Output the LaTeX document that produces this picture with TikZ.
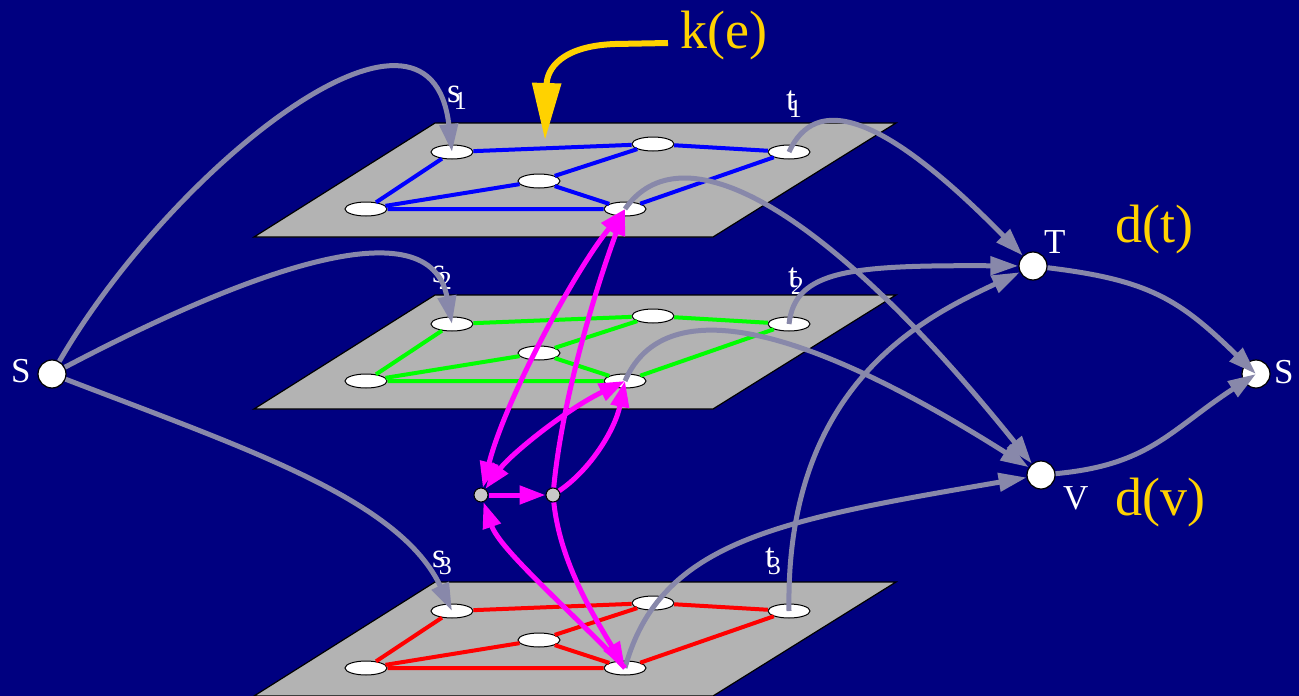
\documentclass[tikz,border=0pt]{standalone}
\usepackage{fontspec}
\setmainfont{Liberation Serif}
\usetikzlibrary{arrows.meta,shapes.geometric}
\definecolor{navy}{RGB}{0,0,128}
\definecolor{planegray}{RGB}{179,179,179}
\definecolor{lav}{RGB}{136,136,170}
\definecolor{gold}{RGB}{255,210,0}
\definecolor{mag}{RGB}{255,0,255}
\definecolor{nodegray}{RGB}{200,200,200}
\newcommand{\sublab}[2]{#1\kern-7pt\raisebox{-7pt}{\fontsize{26}{26}\selectfont #2}}
\begin{document}
\begin{tikzpicture}[x=1pt,y=-1pt,
  ell/.style={ellipse,draw=black,fill=white,line width=1pt,minimum width=42pt,minimum height=14pt,inner sep=0pt},
  big/.style={circle,draw=black,fill=white,line width=1.2pt,minimum size=28pt,inner sep=0pt},
  small/.style={circle,draw=black,fill=nodegray,line width=1pt,minimum size=14pt,inner sep=0pt},
  lbl/.style={text=white,font=\fontsize{35}{35}\selectfont,inner sep=0pt,anchor=base west},
  ylbl/.style={text=gold,font=\fontsize{54}{54}\selectfont,inner sep=0pt,anchor=base west},
  grayarrow/.style={draw=lav,line width=5pt,-{Triangle[length=28pt,width=18pt]}},
  magarrow/.style={draw=mag,line width=5pt,-{Triangle[length=26pt,width=18pt]}},
  magboth/.style={draw=mag,line width=5pt,{Triangle[length=26pt,width=18pt]}-{Triangle[length=26pt,width=18pt]}},
  gedge/.style={line width=4pt},
  planestyle/.style={fill=planegray,draw=black,line width=1.2pt}
]
\fill[navy] (0,0) rectangle (1299,696);
\useasboundingbox (0,0) rectangle (1299,696);

% planes with graphs
\foreach \i/\dy/\c in {1/0/blue,2/172/green,3/459/red}{
  \filldraw[planestyle] (254,{237+\dy}) -- (713,{237+\dy}) -- (896,{123+\dy}) -- (435,{123+\dy}) -- cycle;
  \node[ell] (s\i) at (452,{152+\dy}) {};
  \node[ell] (m\i) at (653,{144+\dy}) {};
  \node[ell] (t\i) at (789,{152+\dy}) {};
  \node[ell] (c\i) at (539,{181+\dy}) {};
  \node[ell] (l\i) at (366,{209+\dy}) {};
  \node[ell] (r\i) at (625,{209+\dy}) {};
  \draw[\c,gedge] (s\i) -- (m\i) -- (t\i) -- (r\i) -- (l\i) -- (s\i);
  \draw[\c,gedge] (l\i) -- (c\i) -- (m\i);
  \draw[\c,gedge] (c\i) -- (r\i);
}

% plane labels
\node[lbl] (ls1) at (447,102) {\sublab{s}{1}};
\node[lbl] (lt1) at (786,110) {\sublab{t}{1}};
\node[lbl] (ls2) at (432,282) {\sublab{s}{2}};
\node[lbl] (lt2) at (788,287) {\sublab{t}{2}};
\node[lbl] (ls3) at (432,567) {\sublab{s}{3}};
\node[lbl] (lt3) at (765,567) {\sublab{t}{3}};

% big nodes
\node[big] (src) at (52,374) {};
\node[big] (T) at (1033,266) {};
\node[big] (V) at (1041,475) {};
\node[big] (snk) at (1256,374) {};
\node[lbl] (lsrc) at (11,382) {S};
\node[lbl] (lT) at (1044,253) {T};
\node[lbl] (lV) at (1063,509) {V};
\node[lbl] (lsnk) at (1274,383) {S};

% yellow labels
\node[ylbl] (dt) at (1115,242) {d(t)};
\node[ylbl] (dv) at (1115,515) {d(v)};
\node[ylbl] (ke) at (680,48) {k(e)};

% small gadget nodes
\node[small] (n1) at (481,495) {};
\node[small] (n2) at (553,495) {};

% gray arrows
\draw[grayarrow] (src) .. controls (170,170) and (430,-40) .. (s1.center);
\draw[grayarrow] (src) .. controls (250,270) and (430,205) .. (s2.center);
\draw[grayarrow] (src) .. controls (250,450) and (400,500) .. (s3.center);
\draw[grayarrow] (t1.center) .. controls (815,95) and (880,110) .. (T);
\draw[grayarrow] (t2.center) .. controls (795,270) and (850,265) .. (T);
\draw[grayarrow] (t3.center) .. controls (785,380) and (930,315) .. (T);
\draw[grayarrow] (r1.center) .. controls (680,130) and (820,200) .. (V);
\draw[grayarrow] (r2.center) .. controls (660,300) and (780,310) .. (V);
\draw[grayarrow] (r3.center) .. controls (660,540) and (780,520) .. (V);
\draw[grayarrow] (T) .. controls (1150,280) and (1180,300) .. (snk.center);
\draw[grayarrow] (V) .. controls (1150,465) and (1170,430) .. (snk.center);

% magenta arrows
\draw[magarrow] (n1) -- (n2);
\draw[magboth] (n1) .. controls (505,400) and (575,270) .. (r1.center);
\draw[magarrow] (n2) .. controls (562,400) and (595,290) .. (r1.center);
\draw[magboth] (n1) .. controls (510,455) and (565,410) .. (r2.center);
\draw[magarrow] (n2) .. controls (590,470) and (615,430) .. (r2.center);
\draw[magarrow] (n2) .. controls (560,560) and (590,610) .. (r3.center);
\draw[magarrow] (r3.center) .. controls (570,610) and (500,550) .. (n1);

% k(e) arrow
\coordinate (kstart) at (668,43);
\coordinate (ktip) at (545,140);
\draw[draw=gold,line width=6pt,-{Triangle[length=57pt,width=28pt]}] (kstart) -- (615,44) .. controls (560,46) and (547,70) .. (ktip);
\end{tikzpicture}
\end{document}
